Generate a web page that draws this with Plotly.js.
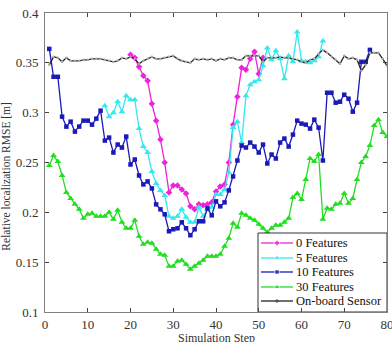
<!DOCTYPE html>
<html><head><meta charset="utf-8">
<script src="https://cdn.plot.ly/plotly-3.0.1.min.js"></script>
<style>body{margin:0;padding:0;background:#fff}#chart{width:392px;height:342px}</style>
</head><body><div id="chart"></div>
<script>
const x0 = [20,21,22,23,24,25,26,27,28,29,30,31,32,33,34,35,36,37,38,39,40,41,42,43,44,45,46,47,48,49,50,51];
const y0 = [0.358,0.355,0.346,0.337,0.332,0.309,0.292,0.273,0.250,0.220,0.227,0.227,0.223,0.219,0.206,0.203,0.208,0.207,0.208,0.210,0.221,0.226,0.228,0.250,0.288,0.316,0.345,0.343,0.354,0.361,0.339,0.355];

const x5 = [14,15,16,17,18,19,20,21,22,23,24,25,26,27,28,29,30,31,32,33,34,35,36,37,38,39,40,41,42,43,44,45,46,47,48,49,50,51,52,53,54,55,56,57,58,59,60,61,62,63,64,65];
const y5 = [0.307,0.296,0.300,0.311,0.301,0.317,0.313,0.313,0.284,0.266,0.260,0.241,0.229,0.222,0.217,0.196,0.194,0.196,0.203,0.195,0.190,0.190,0.205,0.196,0.203,0.205,0.218,0.218,0.223,0.240,0.285,0.291,0.270,0.317,0.328,0.331,0.333,0.347,0.365,0.353,0.362,0.354,0.334,0.357,0.351,0.381,0.352,0.351,0.350,0.352,0.356,0.372];

const x10 = [1,2,3,4,5,6,7,8,9,10,11,12,13,14,15,16,17,18,19,20,21,22,23,24,25,26,27,28,29,30,31,32,33,34,35,36,37,38,39,40,41,42,43,44,45,46,47,48,49,50,51,52,53,54,55,56,57,58,59,60,61,62,63,64,65,66,67,68,69,70,71,72,73,74,75,76];
const y10 = [0.364,0.336,0.336,0.296,0.286,0.291,0.281,0.286,0.292,0.292,0.288,0.294,0.302,0.272,0.275,0.260,0.268,0.265,0.276,0.248,0.253,0.237,0.228,0.231,0.224,0.208,0.203,0.198,0.181,0.183,0.184,0.190,0.184,0.177,0.183,0.191,0.191,0.204,0.197,0.211,0.206,0.210,0.222,0.236,0.252,0.267,0.265,0.270,0.266,0.260,0.268,0.249,0.258,0.254,0.270,0.274,0.266,0.278,0.292,0.289,0.288,0.284,0.293,0.285,0.252,0.320,0.320,0.310,0.311,0.318,0.314,0.301,0.310,0.351,0.351,0.363];

const x30 = [1,2,3,4,5,6,7,8,9,10,11,12,13,14,15,16,17,18,19,20,21,22,23,24,25,26,27,28,29,30,31,32,33,34,35,36,37,38,39,40,41,42,43,44,45,46,47,48,49,50,51,52,53,54,55,56,57,58,59,60,61,62,63,64,65,66,67,68,69,70,71,72,73,74,75,76,77,78,79,80];
const y30 = [0.247,0.257,0.251,0.237,0.220,0.214,0.208,0.203,0.194,0.198,0.199,0.196,0.196,0.196,0.200,0.193,0.202,0.190,0.184,0.184,0.192,0.176,0.168,0.170,0.169,0.163,0.158,0.157,0.146,0.146,0.151,0.152,0.148,0.143,0.146,0.149,0.152,0.156,0.156,0.156,0.158,0.166,0.174,0.189,0.185,0.199,0.197,0.194,0.192,0.188,0.184,0.180,0.184,0.187,0.187,0.190,0.194,0.215,0.219,0.213,0.233,0.254,0.251,0.258,0.193,0.204,0.203,0.208,0.209,0.219,0.209,0.214,0.233,0.250,0.256,0.267,0.287,0.293,0.280,0.276];

const xS = [1,2,3,4,5,6,7,8,9,10,11,12,13,14,15,16,17,18,19,20,21,22,23,24,25,26,27,28,29,30,31,32,33,34,35,36,37,38,39,40,41,42,43,44,45,46,47,48,49,50,51,52,53,54,55,56,57,58,59,60,61,62,63,64,65,66,67,68,69,70,71,72,73,74,75,76,77,78,79,80];
const yS = [0.348,0.356,0.355,0.351,0.355,0.352,0.352,0.352,0.353,0.353,0.354,0.354,0.354,0.353,0.352,0.351,0.352,0.355,0.354,0.356,0.354,0.349,0.352,0.354,0.356,0.354,0.354,0.355,0.356,0.357,0.354,0.352,0.351,0.350,0.354,0.353,0.354,0.353,0.354,0.352,0.354,0.353,0.355,0.355,0.353,0.353,0.357,0.357,0.357,0.357,0.351,0.355,0.355,0.355,0.356,0.355,0.355,0.354,0.353,0.351,0.350,0.353,0.354,0.359,0.363,0.360,0.356,0.353,0.349,0.357,0.354,0.355,0.353,0.342,0.348,0.360,0.360,0.360,0.354,0.347];

const names = ['0 Features','5 Features','10 Features','30 Features','On-board Sensor'];
const xTitle = 'Simulation Step';
const yTitle = 'Relative localization RMSE [m]';
const colors = ['#ee22dd','#33e8ee','#1a1ab8','#22dd22','#222222'];
const symbols = ['diamond','triangle-up','square','triangle-up','circle'];
const msizes = [5,6,4.5,6,2.5];
const mcolors = ['#ee22dd','#33e8ee','#1a1ab8','#22dd22','#aaaaaa'];
const xs = [x0,x5,x10,x30,xS];
const ys = [y0,y5,y10,y30,yS];

const FAM = 'Times New Roman, Liberation Serif, serif';
const data = [];
for (let i = 0; i < 5; i++) {
  data.push({x: xs[i], y: ys[i], name: names[i], type: 'scatter', mode: 'lines+markers',
    line: {color: colors[i], width: 1.3},
    marker: {color: mcolors[i], symbol: symbols[i], size: msizes[i]}, showlegend: false});
}

// Compact legend drawn on an overlay of the plot area (fractions of the plot area)
const LG = {left: 0.6228, top: 0.2642, rows: [0.2308, 0.1806, 0.1338, 0.0836, 0.0368],
            l0: 0.6316, l1: 0.7251, tx: 0.731};
data.push({x: [LG.left, 1, 1, LG.left, LG.left], y: [0, 0, LG.top, LG.top, 0],
  xaxis: 'x2', yaxis: 'y2', type: 'scatter', mode: 'lines', fill: 'toself', fillcolor: '#ffffff',
  line: {color: '#333333', width: 1}, cliponaxis: false, showlegend: false, hoverinfo: 'skip'});
const annotations = [];
for (let i = 0; i < 5; i++) {
  const r = LG.rows[i];
  data.push({x: [LG.l0, (LG.l0 + LG.l1) / 2, LG.l1], y: [r, r, r], xaxis: 'x2', yaxis: 'y2',
    type: 'scatter', mode: 'lines+markers', line: {color: colors[i], width: 1.3},
    marker: {color: mcolors[i], symbol: symbols[i], size: [0, msizes[i], 0]},
    showlegend: false, hoverinfo: 'skip', cliponaxis: false});
  annotations.push({xref: 'x2', yref: 'y2', x: LG.tx, y: r, text: names[i], showarrow: false,
    xanchor: 'left', yanchor: 'middle', borderpad: 0,
    font: {family: FAM, size: 12.5, color: '#111'}});
}
// axis titles placed like the reference (close to the page edge)
annotations.push({xref: 'paper', yref: 'paper', x: 0.5, y: 0, yshift: -18, xanchor: 'center',
  yanchor: 'top', text: xTitle, showarrow: false, borderpad: 0,
  font: {family: FAM, size: 12, color: '#333'}});
annotations.push({xref: 'paper', yref: 'paper', x: -0.115, y: 0.455, xanchor: 'center',
  yanchor: 'middle', textangle: -90, text: yTitle, showarrow: false, borderpad: 0,
  font: {family: FAM, size: 11.5, color: '#333'}});

const axisFont = {family: FAM, size: 13, color: '#333'};
const layout = {
  width: 392, height: 342,
  margin: {l: 45, r: 5, t: 13, b: 30},
  paper_bgcolor: '#fff', plot_bgcolor: '#fff',
  font: {family: FAM, size: 13, color: '#262626'},
  showlegend: false,
  annotations: annotations,
  xaxis: {range: [0, 80], dtick: 10, tick0: 0, ticks: 'inside', ticklen: 4, mirror: 'ticks',
    showline: true, linecolor: '#808080', linewidth: 1, showgrid: false, zeroline: false,
    tickfont: axisFont, ticklabeloverflow: 'allow', automargin: false},
  yaxis: {range: [0.1, 0.4], dtick: 0.05, tick0: 0.1, ticks: 'inside', ticklen: 4, mirror: 'ticks',
    showline: true, linecolor: '#808080', linewidth: 1, showgrid: false, zeroline: false,
    tickfont: axisFont, automargin: false, ticklabelstandoff: 3},
  xaxis2: {overlaying: 'x', range: [0, 1], visible: false, fixedrange: true},
  yaxis2: {overlaying: 'y', range: [0, 1], visible: false, fixedrange: true}
};
Plotly.newPlot('chart', data, layout, {displayModeBar: false, staticPlot: true});
</script>
</body></html>
